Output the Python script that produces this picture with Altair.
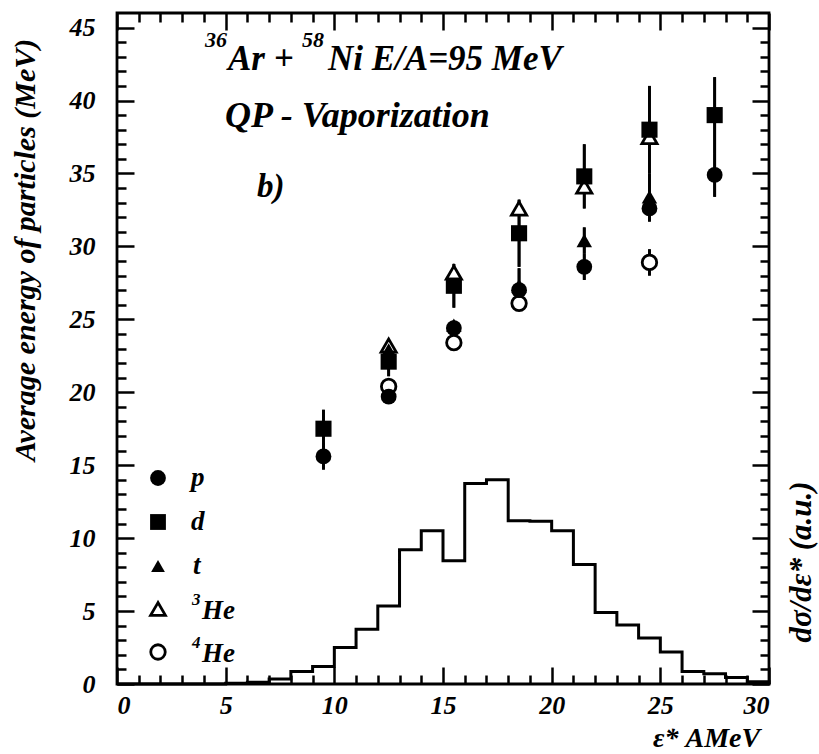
import altair as alt
import pandas as pd

# ---------------- data ----------------
# histogram d(sigma)/d(eps*)  (1 AMeV bins, left edges 0..30)
bin_left = list(range(0, 31))
bin_height = [0, 0, 0, 0, 0, 0.05, 0.12, 0.35, 0.85, 1.2, 2.5, 3.75, 5.35, 9.2, 10.5,
              8.45, 13.75, 14.0, 11.2, 11.15, 10.5, 8.2, 4.9, 4.05, 3.15, 2.2, 0.85,
              0.7, 0.45, 0.15, 0]

p_x = [9.5, 12.5, 15.5, 18.5, 21.5, 24.5, 27.5]
p_y = [15.6, 19.7, 24.4, 27.0, 28.6, 32.6, 34.9]
p_err = [0.9, 0.3, 0.3, 0.4, 0.9, 0.9, 1.5]

d_x = [9.5, 12.5, 15.5, 18.5, 21.5, 24.5, 27.5]
d_y = [17.5, 22.1, 27.3, 30.9, 34.8, 38.0, 39.0]
d_err = [1.3, 1.0, 1.5, 2.3, 2.2, 3.0, 2.6]

t_x = [12.5, 15.5, 18.5, 21.5, 24.5]
t_y = [22.9, 24.6, 27.3, 30.4, 33.4]
t_err = [0.3, 0.3, 1.2, 0.9, 1.6]

he3_x = [12.5, 15.5, 18.5, 21.5, 24.5]
he3_y = [23.2, 28.2, 32.6, 34.1, 37.5]
he3_err = [0.4, 0.3, 0.4, 0.3, 0.3]

he4_x = [12.5, 15.5, 18.5, 24.5]
he4_y = [20.4, 23.4, 26.1, 28.9]
he4_err = [0.5, 0.3, 0.4, 0.9]

x_major = [0, 5, 10, 15, 20, 25, 30]
x_all = list(range(0, 31))
y_major = [0, 5, 10, 15, 20, 25, 30, 35, 40, 45]
y_all = list(range(0, 46))

# ---------------- layout ----------------
W, H = 652, 671
L, T = 117, 13
FONT = "'Liberation Serif', 'Times New Roman', 'DejaVu Serif', serif"
XS = alt.Scale(domain=[0, 30], nice=False, zero=False)
YS = alt.Scale(domain=[0, 46], nice=False, zero=False)
TICK = {"condition": {"test": "datum.value % 5 === 0", "value": 17}, "value": 9}

hist = pd.DataFrame({"e": bin_left, "h": bin_height})


def pts(xv, yv):
    return pd.DataFrame({"e": xv, "v": yv})


err_frames = []
for xv, yv, ev in [(p_x, p_y, p_err), (d_x, d_y, d_err), (t_x, t_y, t_err),
                   (he3_x, he3_y, he3_err), (he4_x, he4_y, he4_err)]:
    df = pts(xv, yv)
    df["lo"] = df["v"] - pd.Series(ev)
    df["hi"] = df["v"] + pd.Series(ev)
    err_frames.append(df)
errs = pd.concat(err_frames, ignore_index=True)

ax_x_lab = alt.Axis(orient="bottom", values=x_major, ticks=False, domain=False, grid=False,
                    labelPadding=8, title=None)
ax_y_lab = alt.Axis(orient="left", values=y_major, ticks=False, domain=False, grid=False,
                    labelPadding=22, title=None)
ax_x_bot_in = alt.Axis(orient="top", offset=-H, values=x_all, labels=False, domain=False,
                       grid=False, tickSize=TICK, title=None)
ax_x_top_in = alt.Axis(orient="bottom", offset=-H, values=x_all, labels=False, domain=False,
                       grid=False, tickSize=TICK, title=None)
ax_y_left_in = alt.Axis(orient="right", offset=-W, values=y_all, labels=False, domain=False,
                        grid=False, tickSize=TICK, title=None)
ax_y_right_in = alt.Axis(orient="left", offset=-W, values=y_all, labels=False, domain=False,
                         grid=False, tickSize=TICK, title=None)

layers = []

# histogram (carries the labelled axes)
layers.append(
    alt.Chart(hist).mark_line(interpolate="step-after", color="black", strokeWidth=3).encode(
        x=alt.X("e:Q", scale=XS, axis=ax_x_lab),
        y=alt.Y("h:Q", scale=YS, axis=ax_y_lab),
    )
)

# error bars, split to carry inward tick axes
layers.append(
    alt.Chart(errs).mark_rule(color="black", strokeWidth=2.8).encode(
        x=alt.X("e:Q", scale=XS, axis=ax_x_bot_in),
        y=alt.Y("lo:Q", scale=YS, axis=ax_y_left_in),
        y2="hi:Q",
    )
)
layers.append(
    alt.Chart(errs).mark_rule(color="black", strokeWidth=2.8).encode(
        x=alt.X("e:Q", scale=XS, axis=ax_x_top_in),
        y=alt.Y("lo:Q", scale=YS, axis=ax_y_right_in),
        y2="hi:Q",
    )
)


def sym(df, shape, size, open_):
    if open_:
        m = alt.Chart(df).mark_point(shape=shape, size=size, filled=True, fill="white",
                                     stroke="black", strokeWidth=2.8, opacity=1)
    else:
        m = alt.Chart(df).mark_point(shape=shape, size=size, filled=True, color="black",
                                     opacity=1)
    return m.encode(x=alt.X("e:Q", scale=XS, axis=None),
                    y=alt.Y("v:Q", scale=YS, axis=None))


layers.append(sym(pts(he3_x, he3_y), "triangle-up", 230, True))
layers.append(sym(pts(he4_x, he4_y), "circle", 210, True))
layers.append(sym(pts(d_x, d_y), "square", 260, False))
layers.append(sym(pts(t_x, t_y), "triangle-up", 240, False))
layers.append(sym(pts(p_x, p_y), "circle", 250, False))

one = pd.DataFrame({"k": [0]})


def txt(s, x, y, size, angle=0, align="left", italic=True, baseline="alphabetic"):
    kw = dict(text=s, font=FONT, fontSize=size, fontWeight="bold", align=align,
              baseline=baseline, color="black")
    if italic:
        kw["fontStyle"] = "italic"
    if angle:
        kw["angle"] = angle
    return alt.Chart(one).mark_text(**kw).encode(x=alt.value(x - L), y=alt.value(y - T))


def legsym(shape, x, y, open_, size=200):
    if open_:
        m = alt.Chart(one).mark_point(shape=shape, size=size, filled=True, fill="white",
                                      stroke="black", strokeWidth=2.8, opacity=1)
    else:
        m = alt.Chart(one).mark_point(shape=shape, size=size, filled=True, color="black",
                                      opacity=1)
    return m.encode(x=alt.value(x - L), y=alt.value(y - T))


# title annotations (page pixel positions)
layers += [
    txt("36", 205, 47, 22),
    txt("Ar +", 228, 70, 35),
    txt("58", 302, 47, 22),
    txt("Ni E/A=95 MeV", 328, 70, 35),
    txt("QP - Vaporization", 225, 127, 36),
    txt("b)", 257, 197, 33),
]

# legend
leg_y = [478, 522, 566, 609, 652]
layers += [
    legsym("circle", 158, leg_y[0], False, 250),
    legsym("square", 158, leg_y[1], False, 250),
    legsym("triangle-up", 158, leg_y[2], False, 190),
    legsym("triangle-up", 158, leg_y[3], True, 220),
    legsym("circle", 158, leg_y[4], True, 210),
    txt("p", 191, leg_y[0] + 8, 27),
    txt("d", 191, leg_y[1] + 8, 27),
    txt("t", 193, leg_y[2] + 8, 27),
    txt("3", 192, leg_y[3] - 4, 17),
    txt("He", 202, leg_y[3] + 10, 27),
    txt("4", 192, leg_y[4] - 4, 17),
    txt("He", 202, leg_y[4] + 10, 27),
]

# axis titles
layers += [
    txt("Average energy of particles (MeV)", 26, 250, 30, angle=270, align="center",
        baseline="middle"),
    txt("dσ/dε* (a.u.)", 802, 562, 31, angle=270, align="center", baseline="middle"),
    txt("ε* AMeV", 653, 747, 28),
]

chart = alt.layer(*layers).resolve_scale(x="independent", y="independent").properties(
    width=W, height=H,
    autosize=alt.AutoSizeParams(type="none"),
    padding={"left": L, "top": T, "right": 819 - L - W, "bottom": 754 - T - H},
).configure_view(
    stroke="black", strokeWidth=2.8
).configure_axis(
    labelFont=FONT, labelFontSize=26, labelFontStyle="italic", labelFontWeight="bold",
    labelColor="black", tickColor="black", tickWidth=2.5,
)

chart.save("out.html", embed_options={"renderer": "svg", "actions": False})
